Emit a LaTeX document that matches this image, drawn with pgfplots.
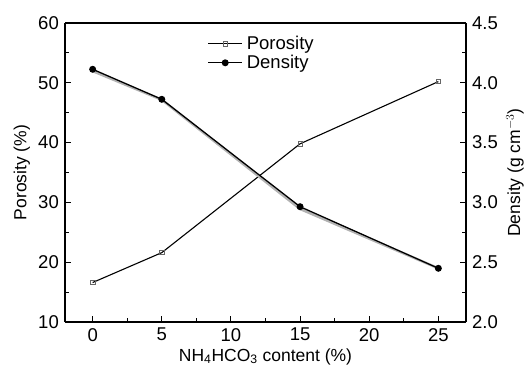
\documentclass[border=0pt]{standalone}
\usepackage{fontspec}
\setmainfont{Liberation Sans}
\usepackage{pgfplots}
\pgfplotsset{compat=1.18}
\begin{document}
\fontsize{18bp}{21bp}\selectfont
\begin{tikzpicture}
\pgfplotsset{
  every axis/.style={
    scale only axis, width=401bp, height=299bp,
    at={(0,0)}, anchor=south west,
    xmin=-2, xmax=27,
    tick align=inside,
    major tick length=6bp, minor tick length=4bp,
    every tick/.style={black, line width=1.1bp},
    axis line style={line width=1.3bp},
    tick label style={font=\fontsize{18.5bp}{21bp}\selectfont},
    label style={font=\fontsize{17.5bp}{20bp}\selectfont},
    /pgf/number format/assume math mode=true,
  }
}
\begin{axis}[
  ymin=10, ymax=60,
  xtick={0,5,10,15,20,25}, minor x tick num=1,
  ytick={10,20,30,40,50,60}, minor y tick num=1,
  axis y line*=left, axis x line*=bottom,
  ylabel={Porosity (\%)},
  xlabel={NH\textsubscript{4}HCO\textsubscript{3} content (\%)},
  ylabel style={yshift=-4bp},
  xlabel style={yshift=5bp},
]
\addplot[black, line width=1.1bp, mark=square, mark size=2.2bp, mark options={draw=gray!80!black, fill=white, line width=0.7bp}]
  coordinates {(0,16.6) (5,21.6) (15,39.8) (25,50.2)};
\end{axis}
\begin{axis}[
  ymin=2.0, ymax=4.5,
  ytick={2.0,2.5,3.0,3.5,4.0,4.5}, minor y tick num=1,
  yticklabel style={/pgf/number format/.cd, fixed, fixed zerofill, precision=1},
  axis y line*=right, axis x line*=top,
  xtick=\empty,
  ylabel={Density (g cm$^{-3}$)},
  ylabel style={yshift=4bp},
  legend style={draw=none, fill=none, at={(0.355,0.965)}, anchor=north west,
    font=\fontsize{18.5bp}{20bp}\selectfont, row sep=-1bp,
    inner sep=0pt, /tikz/every odd column/.style={column sep=2bp}},
  legend cell align=left,
  legend image code/.code={\draw[#1, mark=none] (0bp,0bp) -- (34bp,0bp);
    \draw[#1, only marks] plot coordinates {(17bp,0bp)};},
]
\addlegendimage{black, line width=1.1bp, mark=square, mark size=2.2bp, mark options={draw=gray!80!black, fill=white, line width=0.7bp}}
\addlegendentry{Porosity}
\addplot[gray!60, line width=2.5bp, forget plot]
  coordinates {(0,4.098) (5,3.858) (15,2.945) (25,2.449)};
\addplot[black, line width=1.3bp, mark=*, mark size=2.8bp]
  coordinates {(0,4.113) (5,3.862) (15,2.964) (25,2.449)};
\addlegendentry{Density}
\end{axis}
\pgfresetboundingbox
\path[use as bounding box] (-65bp,-47bp) rectangle (462bp,322bp);
\end{tikzpicture}
\end{document}
